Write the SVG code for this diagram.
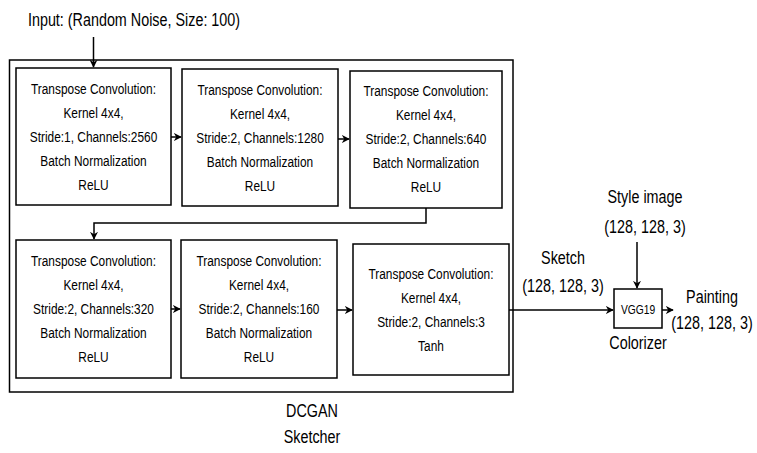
<svg xmlns="http://www.w3.org/2000/svg" width="757" height="453" viewBox="0 0 757 453">
<style>
text{font-family:"Liberation Sans",Arial,sans-serif;fill:#000;text-anchor:middle}
.b{font-size:14.5px}
.l{font-size:17.5px}
.s{font-size:12.5px}
rect{fill:#fff;stroke:#000;stroke-width:1.5}
.c{fill:none;stroke:#000;stroke-width:1.5}
</style>
<defs>
<marker id="a" viewBox="0 0 10 10" refX="9" refY="5" markerWidth="8" markerHeight="8" markerUnits="userSpaceOnUse" orient="auto">
<path d="M0,0 L10,5 L0,10 L3,5 Z" fill="#000"/>
</marker>
</defs>
<g id="sketcher">
<rect x="9.5" y="60" width="503.5" height="332"/>
<text class="l" transform="translate(312,0) scale(0.82,1)" x="0" y="417">DCGAN</text>
<text class="l" transform="translate(312,0) scale(0.82,1)" x="0" y="443">Sketcher</text>
</g>
<g id="input"><text class="l" transform="translate(134,0) scale(0.82,1)" x="0" y="26">Input: (Random Noise, Size: 100)</text></g>
<g id="box1"><rect x="16" y="68" width="155" height="137"/>
<text class="b" transform="translate(93.5,0) scale(0.82,1)"><tspan x="0" y="94">Transpose Convolution:</tspan><tspan x="0" y="118">Kernel 4x4,</tspan><tspan x="0" y="142">Stride:1, Channels:2560</tspan><tspan x="0" y="166">Batch Normalization</tspan><tspan x="0" y="190">ReLU</tspan></text></g>
<g id="box2"><rect x="182" y="69" width="156" height="137"/>
<text class="b" transform="translate(260,0) scale(0.82,1)"><tspan x="0" y="95">Transpose Convolution:</tspan><tspan x="0" y="119">Kernel 4x4,</tspan><tspan x="0" y="143">Stride:2, Channels:1280</tspan><tspan x="0" y="167">Batch Normalization</tspan><tspan x="0" y="191">ReLU</tspan></text></g>
<g id="box3"><rect x="350" y="71" width="152" height="137"/>
<text class="b" transform="translate(426,0) scale(0.82,1)"><tspan x="0" y="96">Transpose Convolution:</tspan><tspan x="0" y="120">Kernel 4x4,</tspan><tspan x="0" y="144">Stride:2, Channels:640</tspan><tspan x="0" y="168">Batch Normalization</tspan><tspan x="0" y="192">ReLU</tspan></text></g>
<g id="box4"><rect x="16" y="240" width="155" height="138"/>
<text class="b" transform="translate(93.5,0) scale(0.82,1)"><tspan x="0" y="266">Transpose Convolution:</tspan><tspan x="0" y="290">Kernel 4x4,</tspan><tspan x="0" y="314">Stride:2, Channels:320</tspan><tspan x="0" y="338">Batch Normalization</tspan><tspan x="0" y="362">ReLU</tspan></text></g>
<g id="box5"><rect x="181" y="240" width="156" height="138"/>
<text class="b" transform="translate(259,0) scale(0.82,1)"><tspan x="0" y="266">Transpose Convolution:</tspan><tspan x="0" y="290">Kernel 4x4,</tspan><tspan x="0" y="314">Stride:2, Channels:160</tspan><tspan x="0" y="338">Batch Normalization</tspan><tspan x="0" y="362">ReLU</tspan></text></g>
<g id="box6"><rect x="353" y="244" width="156" height="131"/>
<text class="b" transform="translate(431,0) scale(0.82,1)"><tspan x="0" y="279">Transpose Convolution:</tspan><tspan x="0" y="303">Kernel 4x4,</tspan><tspan x="0" y="327">Stride:2, Channels:3</tspan><tspan x="0" y="351">Tanh</tspan></text></g>
<g id="colorizer"><rect x="614" y="289" width="48" height="39"/>
<text class="s" transform="translate(638,0) scale(0.82,1)" x="0" y="314">VGG19</text>
<text class="l" transform="translate(638,0) scale(0.82,1)" x="0" y="349">Colorizer</text></g>
<g id="labels">
<text class="l" transform="translate(563,0) scale(0.82,1)"><tspan x="0" y="264">Sketch</tspan><tspan x="0" y="292">(128, 128, 3)</tspan></text>
<text class="l" transform="translate(645,0) scale(0.82,1)"><tspan x="0" y="203">Style image</tspan><tspan x="0" y="233">(128, 128, 3)</tspan></text>
<text class="l" transform="translate(712,0) scale(0.82,1)"><tspan x="0" y="303">Painting</tspan><tspan x="0" y="329">(128, 128, 3)</tspan></text>
</g>
<g id="connectors">
<path class="c" d="M93.5,37 V67" marker-end="url(#a)"/>
<path class="c" d="M171,137 H181" marker-end="url(#a)"/>
<path class="c" d="M338,139 H349" marker-end="url(#a)"/>
<path class="c" d="M426,208 V223 H94 V239" marker-end="url(#a)"/>
<path class="c" d="M171,309 H180" marker-end="url(#a)"/>
<path class="c" d="M337,310 H352" marker-end="url(#a)"/>
<path class="c" d="M509,310 H613" marker-end="url(#a)"/>
<path class="c" d="M637,242 V288" marker-end="url(#a)"/>
<path class="c" d="M662,310 H673" marker-end="url(#a)"/>
</g>
</svg>
